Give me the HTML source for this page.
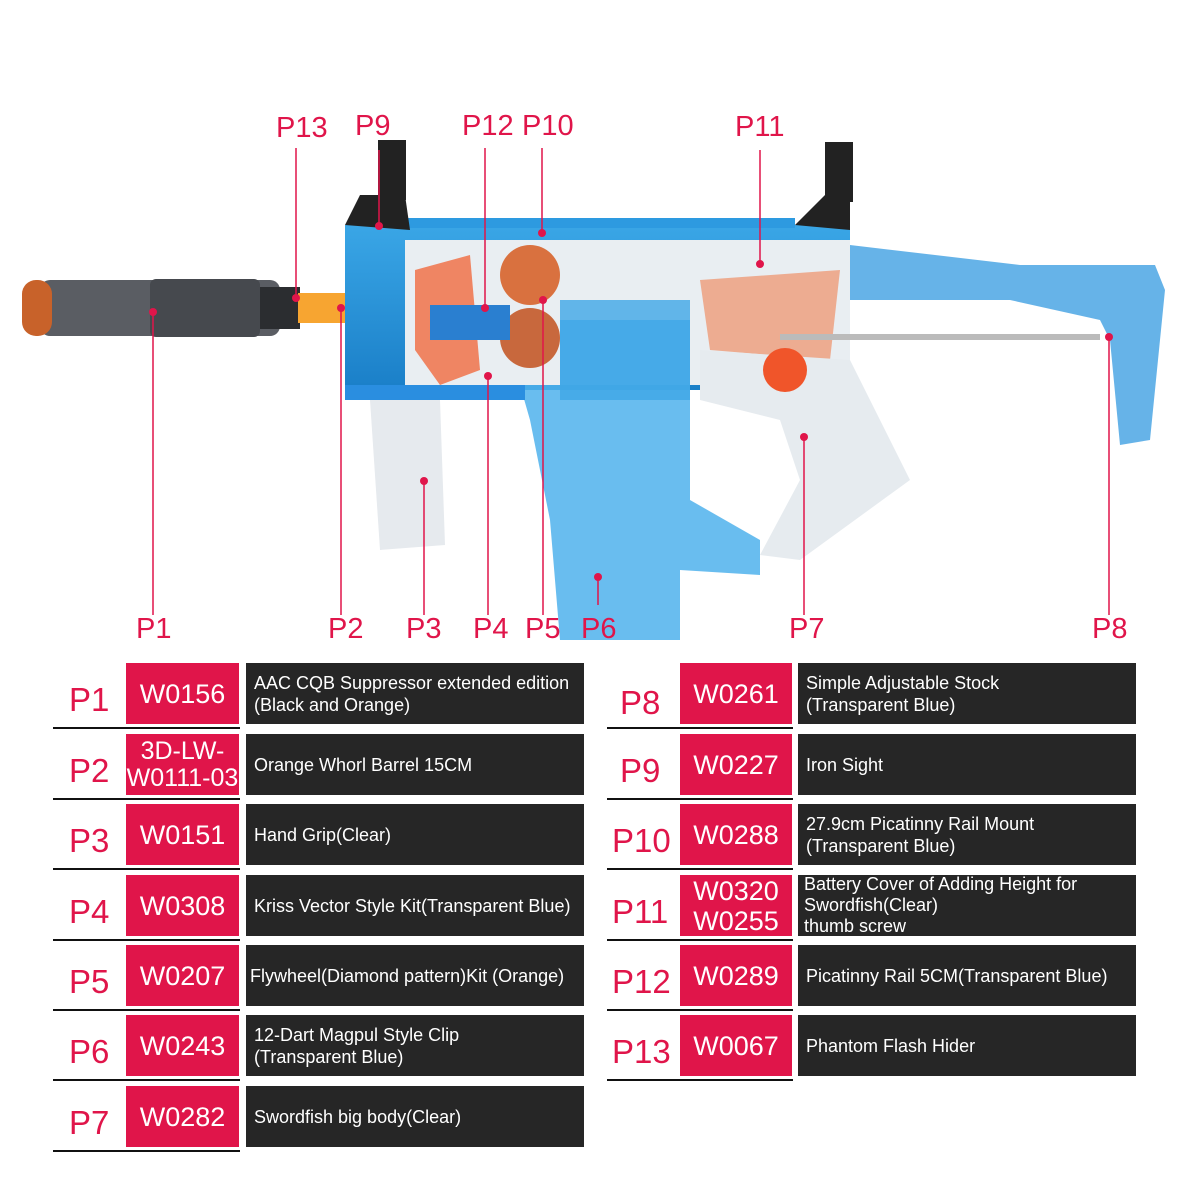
<!DOCTYPE html>
<html><head><meta charset="utf-8"><style>
body{margin:0;width:1200px;height:1200px;background:#fff;position:relative;overflow:hidden;font-family:"Liberation Sans",sans-serif}
.a{position:absolute}
.lbl{position:absolute;color:#e0154a;font-size:29px}
.pl{position:absolute;color:#e0154a;font-size:33px}
.r{position:absolute;background:#e0154a;color:#fff;font-size:27px;display:flex;align-items:center;justify-content:center;text-align:center;line-height:28px}
.k{position:absolute;background:#262626;color:#fff;font-size:18px;display:flex;align-items:center;line-height:22px;padding-left:8px;box-sizing:border-box}
.u{position:absolute;height:2px;background:#111}
</style></head><body>
<svg class="a" style="left:0;top:0" width="1200" height="660">
<defs><linearGradient id="bl" x1="0" y1="0" x2="0" y2="1"><stop offset="0" stop-color="#3aa6e6"/><stop offset="1" stop-color="#1a7fc8"/></linearGradient></defs>
<!-- suppressor -->
<rect x="40" y="280" width="240" height="56" rx="10" fill="#5a5d63"/>
<rect x="150" y="279" width="110" height="58" rx="6" fill="#46494e"/>
<rect x="22" y="280" width="30" height="56" rx="14" fill="#c8622a"/>
<rect x="260" y="287" width="40" height="42" fill="#2b2d30"/>
<rect x="298" y="293" width="50" height="30" fill="#f7a531"/>
<!-- body -->
<rect x="345" y="225" width="505" height="165" fill="url(#bl)"/>
<rect x="405" y="240" width="445" height="145" fill="#e9eef2"/>
<rect x="405" y="218" width="390" height="10" fill="#2d9ae0"/>
<path d="M345,225 L360,195 L405,195 L410,230Z" fill="#222"/>
<rect x="378" y="140" width="28" height="60" fill="#222"/>
<path d="M795,225 L825,195 L850,195 L850,230Z" fill="#222"/>
<rect x="825" y="142" width="28" height="60" fill="#222"/>
<circle cx="530" cy="275" r="30" fill="#d9713f"/>
<circle cx="530" cy="338" r="30" fill="#c8683d"/>
<path d="M415,270 L470,255 L480,370 L440,385 L415,350Z" fill="#f06a3f" opacity=".8"/>
<path d="M700,280 L840,270 L830,360 L710,350Z" fill="#f08050" opacity=".6"/>
<rect x="430" y="305" width="80" height="35" fill="#2a7fd0"/>
<!-- stock -->
<path d="M850,245 L1020,265 L1155,265 L1165,290 L1150,440 L1120,445 L1110,340 L1100,320 L1010,300 L850,300Z" fill="#4ba6e4" opacity=".85"/>
<rect x="780" y="334" width="320" height="6" fill="#bbb"/>
<!-- magazine / lower -->
<path d="M520,385 L560,385 L560,320 L690,320 L690,500 L760,540 L760,575 L680,570 L680,640 L560,640 L550,520 L540,470 L530,420Z" fill="#4fb2ec" opacity=".85"/>
<path d="M560,300 L690,300 L690,400 L560,400Z" fill="#3ea6e6" opacity=".8"/>
<path d="M700,350 L850,360 L910,480 L800,560 L760,555 L800,480 L780,420 L700,400Z" fill="#e6ebef"/>
<circle cx="785" cy="370" r="22" fill="#f0552a"/>
<rect x="345" y="385" width="180" height="15" fill="#2a8ee0"/>
<path d="M370,400 L440,400 L445,545 L380,550Z" fill="#e6eaee"/>
<g stroke="#e0154a" stroke-width="1.5" fill="none">
<path d="M153,312V615M341,308V615M424,481V615M488,376V615M543,300V615M598,577V605M804,437V615M1109,337V615M296,148V298M379,150V226M485,148V308M542,148V233M760,150V264"/></g>
<g fill="#e0154a">
<circle cx="153" cy="312" r="4"/><circle cx="341" cy="308" r="4"/><circle cx="424" cy="481" r="4"/><circle cx="488" cy="376" r="4"/><circle cx="543" cy="300" r="4"/><circle cx="598" cy="577" r="4"/><circle cx="804" cy="437" r="4"/><circle cx="1109" cy="337" r="4"/><circle cx="296" cy="298" r="4"/><circle cx="379" cy="226" r="4"/><circle cx="485" cy="308" r="4"/><circle cx="542" cy="233" r="4"/><circle cx="760" cy="264" r="4"/></g>
</svg>
<div class="lbl" style="left:276px;top:112px">P13</div>
<div class="lbl" style="left:355px;top:110px">P9</div>
<div class="lbl" style="left:462px;top:110px">P12</div>
<div class="lbl" style="left:522px;top:110px">P10</div>
<div class="lbl" style="left:735px;top:111px">P11</div>
<div class="lbl" style="left:136px;top:613px">P1</div>
<div class="lbl" style="left:328px;top:613px">P2</div>
<div class="lbl" style="left:406px;top:613px">P3</div>
<div class="lbl" style="left:473px;top:613px">P4</div>
<div class="lbl" style="left:525px;top:613px">P5</div>
<div class="lbl" style="left:581px;top:613px">P6</div>
<div class="lbl" style="left:789px;top:613px">P7</div>
<div class="lbl" style="left:1092px;top:613px">P8</div>

<!-- left table -->
<div class="pl" style="left:69px;top:681px">P1</div><div class="r" style="left:126px;top:663px;width:113px;height:61px">W0156</div><div class="k" style="left:246px;top:663px;width:338px;height:61px">AAC CQB Suppressor extended edition<br>(Black and Orange)</div><div class="u" style="left:53px;top:727px;width:187px"></div>
<div class="pl" style="left:69px;top:752px">P2</div><div class="r" style="left:126px;top:734px;width:113px;height:61px;font-size:25px;line-height:27px">3D-LW-<br>W0111-03</div><div class="k" style="left:246px;top:734px;width:338px;height:61px">Orange Whorl Barrel 15CM</div><div class="u" style="left:53px;top:798px;width:187px"></div>
<div class="pl" style="left:69px;top:822px">P3</div><div class="r" style="left:126px;top:804px;width:113px;height:61px">W0151</div><div class="k" style="left:246px;top:804px;width:338px;height:61px">Hand Grip(Clear)</div><div class="u" style="left:53px;top:868px;width:187px"></div>
<div class="pl" style="left:69px;top:893px">P4</div><div class="r" style="left:126px;top:875px;width:113px;height:61px">W0308</div><div class="k" style="left:246px;top:875px;width:338px;height:61px">Kriss Vector Style Kit(Transparent Blue)</div><div class="u" style="left:53px;top:939px;width:187px"></div>
<div class="pl" style="left:69px;top:963px">P5</div><div class="r" style="left:126px;top:945px;width:113px;height:61px">W0207</div><div class="k" style="left:246px;top:945px;width:338px;height:61px;padding-left:4px">Flywheel(Diamond pattern)Kit (Orange)</div><div class="u" style="left:53px;top:1009px;width:187px"></div>
<div class="pl" style="left:69px;top:1033px">P6</div><div class="r" style="left:126px;top:1015px;width:113px;height:61px">W0243</div><div class="k" style="left:246px;top:1015px;width:338px;height:61px">12-Dart Magpul Style Clip<br>(Transparent Blue)</div><div class="u" style="left:53px;top:1079px;width:187px"></div>
<div class="pl" style="left:69px;top:1104px">P7</div><div class="r" style="left:126px;top:1086px;width:113px;height:61px">W0282</div><div class="k" style="left:246px;top:1086px;width:338px;height:61px">Swordfish big body(Clear)</div><div class="u" style="left:53px;top:1150px;width:187px"></div>

<!-- right table -->
<div class="pl" style="left:620px;top:684px">P8</div><div class="r" style="left:680px;top:663px;width:112px;height:61px">W0261</div><div class="k" style="left:798px;top:663px;width:338px;height:61px">Simple Adjustable Stock<br>(Transparent Blue)</div><div class="u" style="left:607px;top:727px;width:186px"></div>
<div class="pl" style="left:620px;top:752px">P9</div><div class="r" style="left:680px;top:734px;width:112px;height:61px">W0227</div><div class="k" style="left:798px;top:734px;width:338px;height:61px">Iron Sight</div><div class="u" style="left:607px;top:798px;width:186px"></div>
<div class="pl" style="left:612px;top:822px">P10</div><div class="r" style="left:680px;top:804px;width:112px;height:61px">W0288</div><div class="k" style="left:798px;top:804px;width:338px;height:61px">27.9cm Picatinny Rail Mount<br>(Transparent Blue)</div><div class="u" style="left:607px;top:868px;width:186px"></div>
<div class="pl" style="left:612px;top:893px">P11</div><div class="r" style="left:680px;top:875px;width:112px;height:61px;line-height:30px">W0320<br>W0255</div><div class="k" style="left:798px;top:875px;width:338px;height:61px;padding-left:6px;line-height:21px">Battery Cover of Adding Height for<br>Swordfish(Clear)<br>thumb screw</div><div class="u" style="left:607px;top:939px;width:186px"></div>
<div class="pl" style="left:612px;top:963px">P12</div><div class="r" style="left:680px;top:945px;width:112px;height:61px">W0289</div><div class="k" style="left:798px;top:945px;width:338px;height:61px">Picatinny Rail 5CM(Transparent Blue)</div><div class="u" style="left:607px;top:1009px;width:186px"></div>
<div class="pl" style="left:612px;top:1033px">P13</div><div class="r" style="left:680px;top:1015px;width:112px;height:61px">W0067</div><div class="k" style="left:798px;top:1015px;width:338px;height:61px">Phantom Flash Hider</div><div class="u" style="left:607px;top:1079px;width:186px"></div>
</body></html>
